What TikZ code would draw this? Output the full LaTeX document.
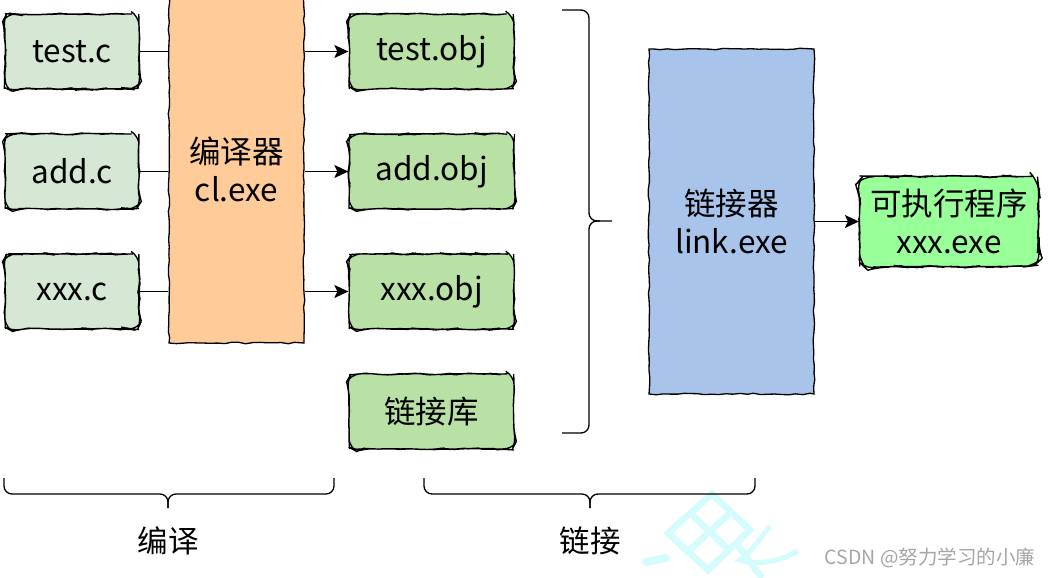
\documentclass[tikz,border=0pt]{standalone}
\usepackage{fontspec}
\setmainfont{Noto Sans CJK SC}
\usetikzlibrary{arrows.meta,decorations.pathmorphing}
\definecolor{srcfill}{HTML}{D5E8D4}
\definecolor{objfill}{HTML}{B9E0A5}
\definecolor{ccfill}{HTML}{FFCC99}
\definecolor{linkfill}{HTML}{A9C4EB}
\definecolor{exefill}{HTML}{99FF99}
\definecolor{wmcyan}{HTML}{D4FCFC}
\definecolor{wmgray}{HTML}{A6A6A6}
\tikzset{
  sketch/.style={decorate,decoration={random steps,segment length=7pt,amplitude=0.8pt}},
  boxbase/.style={draw=black,line width=1.3pt,inner sep=0pt,align=center,
    font=\fontsize{31.5}{38}\selectfont,sketch},
  srcbox/.style={boxbase,fill=srcfill,rounded corners=9pt,minimum width=134pt,minimum height=75pt},
  objbox/.style={boxbase,fill=objfill,rounded corners=9pt,minimum width=165pt,minimum height=75pt},
  tallbox/.style={boxbase,minimum height=345pt},
  link/.style={line width=1.3pt},
  arr/.style={line width=1.3pt,-{Stealth[length=14pt,width=13pt,inset=3pt]}},
  brace/.style={line width=1.3pt,rounded corners=8pt},
  lbl/.style={font=\fontsize{30.5}{36}\selectfont,inner sep=0pt},
  wm/.style={wmcyan,line width=6.5pt}
}
\begin{document}
\pgfmathsetseed{7}
\begin{tikzpicture}[x=1pt,y=-1pt]
\useasboundingbox (0,0) rectangle (1052,578);
\fill[white] (0,0) rectangle (1052,578);
% watermark graphic
\draw[wm] (712,494) -- (750,530) -- (708,570) -- (668,533) -- cycle;
\draw[wm] (731,512) -- (688,551.5);
\draw[wm] (690,513) -- (729,550);
\draw[wm] (735,542) -- (762,578);
\draw[wm,line width=5pt] (770,526) .. controls (755,546) and (748,554) .. (740,560) .. controls (762,566) and (782,560) .. (798,551);
\draw[wmcyan,line width=8pt,line cap=round] (646,562) -- (666,558);
% nodes
\node[srcbox] (testc) at (72,51.5) {test.c};
\node[srcbox] (addc) at (72,171.5) {add.c};
\node[srcbox] (xxxc) at (72,291.5) {xxx.c};
\node[tallbox,fill=ccfill,minimum width=135pt,minimum height=348pt] (cc) at (236.5,169) {编译器\\cl.exe};
\node[objbox] (testobj) at (431.5,51.5) {test.obj};
\node[objbox] (addobj) at (431.5,171.5) {add.obj};
\node[objbox] (xxxobj) at (431.5,291.5) {xxx.obj};
\node[objbox] (lib) at (431.5,411.5) {链接库};
\node[tallbox,fill=linkfill,minimum width=165pt] (ld) at (731.5,221.5) {链接器\\link.exe};
\node[boxbase,fill=exefill,rounded corners=11pt,minimum width=179pt,minimum height=90pt] (exe) at (949,221.5) {可执行程序\\xxx.exe};
% connectors
\draw[link] (testc.east) -- (cc.west |- testc.east);
\draw[link] (addc.east) -- (cc.west |- addc.east);
\draw[link] (xxxc.east) -- (cc.west |- xxxc.east);
\draw[arr] (cc.east |- testobj.west) -- (testobj.west);
\draw[arr] (cc.east |- addobj.west) -- (addobj.west);
\draw[arr] (cc.east |- xxxobj.west) -- (xxxobj.west);
\draw[arr] (ld.east |- exe.west) -- (exe.west);
% braces
\coordinate (rbtop) at (562,10);
\coordinate (rbtip) at (612,221);
\coordinate (rbbot) at (562,433);
\draw[brace] (rbtop) -- (589,10) -- (589,221) -- (rbtip);
\draw[brace] (600,221) -- (589,221) -- (589,433) -- (rbbot);
\draw[brace] (4,478) -- (4,494) -- (168,494) -- (168,508);
\draw[brace] (334,478) -- (334,494) -- (168,494) -- (168,508);
\draw[brace] (424,478) -- (424,494) -- (590,494) -- (590,508);
\draw[brace] (755,478) -- (755,494) -- (590,494) -- (590,508);
% labels
\node[lbl] (compile) at (168,541) {编译};
\node[lbl] (linking) at (590,541) {链接};
\node[font=\fontsize{19.5}{22}\selectfont,text=wmgray,inner sep=0pt] (wmtext) at (930,558) {CSDN @努力学习的小廉};
\end{tikzpicture}
\end{document}
